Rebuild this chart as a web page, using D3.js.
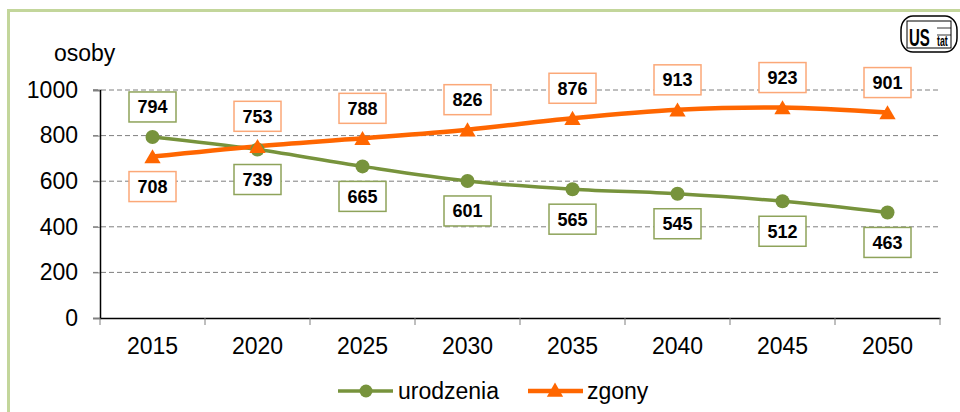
<!DOCTYPE html>
<html>
<head>
<meta charset="utf-8">
<script src="https://cdn.jsdelivr.net/npm/d3@7"></script>
<style>
  body { margin: 0; background: #fff; }
  svg { display: block; font-family: "Liberation Sans", Arial, sans-serif; }
</style>
</head>
<body>
<svg width="960" height="412"></svg>
<script>
// data
var years = ["2015", "2020", "2025", "2030", "2035", "2040", "2045", "2050"];
var urodzenia = [794, 739, 665, 601, 565, 545, 512, 463];
var zgony = [708, 753, 788, 826, 876, 913, 923, 901];
var yTicks = [0, 200, 400, 600, 800, 1000];

var green = "#77933c", orange = "#ff6600";
var fontSize = 23;

var svg = d3.select("svg");

// outer frame
svg.append("rect")
    .attr("x", 8.5).attr("y", 10.5)
    .attr("width", 1000).attr("height", 500)
    .attr("fill", "none")
    .attr("stroke", "#c3d69b")
    .attr("stroke-width", 3);

var x = d3.scaleBand().domain(years).range([100, 940]);
var y = d3.scaleLinear().domain([0, 1000]).range([318, 90]);

// gridlines
svg.append("g")
  .selectAll("line")
  .data(yTicks.filter(function(d) { return d > 0; }))
  .enter().append("line")
    .attr("x1", 93).attr("x2", 940)
    .attr("y1", function(d) { return y(d); })
    .attr("y2", function(d) { return y(d); })
    .attr("stroke", "#7f7f7f")
    .attr("stroke-dasharray", "5,3");

// y axis
var yAxis = svg.append("g")
    .attr("transform", "translate(100,0)")
    .call(d3.axisLeft(y).tickValues(yTicks).tickFormat(d3.format("d"))
      .tickSize(7).tickPadding(15));
yAxis.select(".domain").attr("stroke", "#000").attr("stroke-width", 1.5);
yAxis.selectAll(".tick line").attr("stroke", "#7f7f7f");
yAxis.selectAll(".tick text")
    .attr("font-size", fontSize).attr("fill", "#000")
    .attr("font-family", "Liberation Sans, Arial, sans-serif");

// x axis
var xAxis = svg.append("g")
    .attr("transform", "translate(0,318)")
    .call(d3.axisBottom(x).tickSize(0).tickPadding(20));
xAxis.select(".domain").attr("stroke", "#000").attr("stroke-width", 1.5);
xAxis.selectAll(".tick text")
    .attr("font-size", fontSize).attr("fill", "#000")
    .attr("font-family", "Liberation Sans, Arial, sans-serif");
// tick marks between categories
xAxis.append("g")
  .selectAll("line")
  .data(years.concat(["end"]))
  .enter().append("line")
    .attr("x1", function(d, i) { return 100 + i * x.step(); })
    .attr("x2", function(d, i) { return 100 + i * x.step(); })
    .attr("y1", 0).attr("y2", 7)
    .attr("stroke", "#7f7f7f");

// axis title
svg.append("text")
    .attr("x", 54).attr("y", 61)
    .attr("font-size", fontSize)
    .text("osoby");

function cx(d, i) { return x(years[i]) + x.bandwidth() / 2; }

var line = d3.line()
    .x(function(d, i) { return cx(d, i); })
    .y(function(d) { return y(d); })
    .curve(d3.curveCardinal);

svg.append("path")
    .datum(urodzenia)
    .attr("d", line)
    .attr("fill", "none")
    .attr("stroke", green)
    .attr("stroke-width", 3.5);

svg.append("path")
    .datum(zgony)
    .attr("d", line)
    .attr("fill", "none")
    .attr("stroke", orange)
    .attr("stroke-width", 4.5);

svg.append("g")
  .selectAll("circle")
  .data(urodzenia)
  .enter().append("circle")
    .attr("cx", cx)
    .attr("cy", function(d) { return y(d); })
    .attr("r", 7)
    .attr("fill", green);

var tri = d3.symbol().type(d3.symbolTriangle).size(115);
svg.append("g")
  .selectAll("path")
  .data(zgony)
  .enter().append("path")
    .attr("d", tri)
    .attr("transform", function(d, i) {
      return "translate(" + cx(d, i) + "," + (y(d) + 2) + ")";
    })
    .attr("fill", orange);

// value labels
function addLabels(values, other, stroke) {
  var g = svg.append("g")
    .selectAll("g")
    .data(values)
    .enter().append("g")
      .attr("transform", function(d, i) {
        var up = d >= other[i];
        return "translate(" + cx(d, i) + "," + (y(d) + (up ? -30 : 30)) + ")";
      });
  g.append("rect")
      .attr("x", -23.5).attr("y", -15)
      .attr("width", 47).attr("height", 30)
      .attr("fill", "#fff")
      .attr("stroke", stroke)
      .attr("stroke-width", 1.5);
  g.append("text")
      .attr("text-anchor", "middle")
      .attr("dy", "0.36em")
      .attr("font-size", 18)
      .attr("font-weight", "bold")
      .text(function(d) { return d; });
}
addLabels(urodzenia, zgony, "#8ea35a");
addLabels(zgony, urodzenia, "#fba878");

// legend
var legend = svg.append("g").attr("transform", "translate(0,391)");
legend.append("line")
    .attr("x1", 338).attr("x2", 393)
    .attr("stroke", green).attr("stroke-width", 3.5);
legend.append("circle")
    .attr("cx", 366).attr("r", 6.5).attr("fill", green);
legend.append("text")
    .attr("x", 398).attr("dy", "0.35em")
    .attr("font-size", fontSize)
    .text("urodzenia");
legend.append("line")
    .attr("x1", 528).attr("x2", 583)
    .attr("stroke", orange).attr("stroke-width", 4.5);
legend.append("path")
    .attr("d", tri)
    .attr("transform", "translate(555,1)")
    .attr("fill", orange);
legend.append("text")
    .attr("x", 587).attr("dy", "0.35em")
    .attr("font-size", fontSize)
    .text("zgony");

// logo (approximation)
var logo = svg.append("g").attr("transform", "translate(901,16)");
logo.append("rect")
    .attr("width", 56).attr("height", 36)
    .attr("rx", 12).attr("ry", 14)
    .attr("fill", "#fff")
    .attr("stroke", "#000")
    .attr("stroke-width", 1.5);
logo.append("rect")
    .attr("x", 6).attr("y", 5)
    .attr("width", 44).attr("height", 27)
    .attr("fill", "none")
    .attr("stroke", "#000")
    .attr("stroke-width", 1);
[12, 19].forEach(function(yy) {
  logo.append("line")
      .attr("x1", 36).attr("x2", 50)
      .attr("y1", yy).attr("y2", yy)
      .attr("stroke", "#000").attr("stroke-width", 0.8);
});
logo.append("text")
    .attr("transform", "translate(8,30) scale(1,1.6)")
    .attr("font-size", 15)
    .attr("font-weight", "bold")
    .text("US");
logo.append("text")
    .attr("transform", "translate(36,30) scale(0.8,1.3)")
    .attr("font-size", 11)
    .attr("font-weight", "bold")
    .text("tat");
</script>
</body>
</html>
